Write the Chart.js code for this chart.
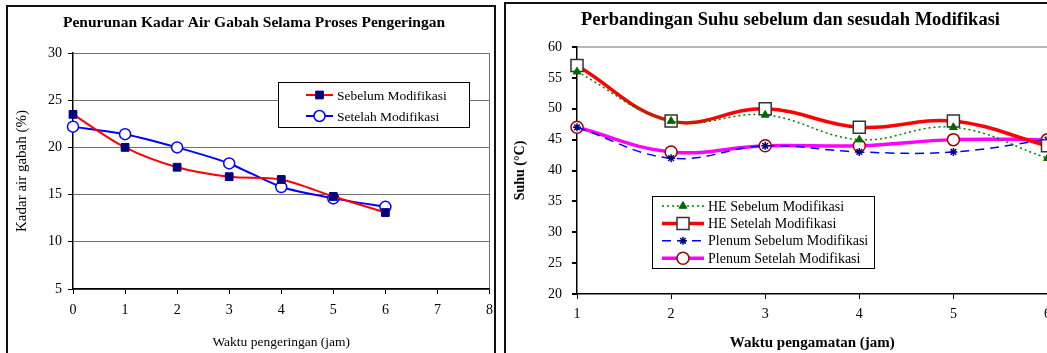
<!DOCTYPE html>
<html>
<head>
<meta charset="utf-8">
<script src="https://cdn.jsdelivr.net/npm/chart.js@4/dist/chart.umd.min.js"></script>
<style>
  html, body { margin: 0; padding: 0; background: #fff; }
  body { width: 1047px; height: 353px; overflow: hidden; position: relative; }
  .frame { position: absolute; border: 2px solid #111; box-sizing: border-box; }
  canvas { position: absolute; }
</style>
</head>
<body>
<div class="frame" style="left:6px; top:5px; width:490px; height:420px;"></div>
<div class="frame" style="left:504px; top:2px; width:600px; height:420px;"></div>
<canvas id="kadarChart" width="494" height="354" style="left:7px; top:6px;"></canvas>
<canvas id="suhuChart" width="553" height="360" style="left:505px; top:3px;"></canvas>
<script>
// data - kiri: kadar air gabah
const jamPengeringan = [0, 1, 2, 3, 4, 5, 6];
const kadarSebelum = [23.5, 20.0, 17.9, 16.9, 16.6, 14.8, 13.1];
const kadarSetelah = [22.2, 21.4, 20.0, 18.3, 15.8, 14.6, 13.7];

// data - kanan: suhu
const jamPengamatan = [1, 2, 3, 4, 5, 6];
const heSebelum = [56, 48, 49, 45, 47, 42];
const heSetelah = [57, 48, 50, 47, 48, 44];
const plenumSebelum = [47, 42, 44, 43, 43, 45];
const plenumSetelah = [47, 43, 44, 44, 45, 45];

const serif = '"Liberation Serif", "Times New Roman", serif';
Chart.defaults.font.family = serif;
Chart.defaults.color = '#000';

const pts = (xs, ys) => xs.map((x, i) => ({ x: x, y: ys[i] }));

// legend box drawn inside the plot, like excel
const boxLegend = {
  id: 'boxLegend',
  afterDraw(chart, args, o) {
    const { ctx, chartArea } = chart;
    const x0 = Math.round(chartArea.left + o.x), y0 = Math.round(chartArea.top + o.y);
    ctx.save();
    ctx.fillStyle = '#fff';
    ctx.fillRect(x0, y0, o.w, o.h);
    ctx.strokeStyle = '#000';
    ctx.lineWidth = 1;
    ctx.strokeRect(x0 + 0.5, y0 + 0.5, o.w, o.h);
    ctx.font = o.font;
    ctx.textBaseline = 'middle';
    chart.data.datasets.forEach((ds, i) => {
      const y = y0 + o.first + i * o.rowH;
      ctx.setLineDash(ds.borderDash || []);
      ctx.strokeStyle = ds.borderColor;
      ctx.lineWidth = ds.borderWidth;
      ctx.beginPath();
      ctx.moveTo(x0 + o.lineFrom, y);
      ctx.lineTo(x0 + o.lineTo, y);
      ctx.stroke();
      ctx.setLineDash([]);
      ctx.fillStyle = ds.pointBackgroundColor;
      ctx.strokeStyle = ds.pointBorderColor;
      ctx.lineWidth = ds.pointBorderWidth;
      Chart.helpers.drawPoint(ctx, {
        pointStyle: ds.pointStyle, radius: ds.pointRadius, rotation: 0, borderWidth: ds.pointBorderWidth
      }, x0 + (o.lineFrom + o.lineTo) / 2, y);
      ctx.fillStyle = '#000';
      ctx.fillText(ds.label, x0 + o.textX, y + 1);
    });
    ctx.restore();
  }
};

//#region kadar air
new Chart(document.getElementById('kadarChart'), {
  type: 'line',
  data: {
    datasets: [
      {
        label: 'Sebelum Modifikasi',
        data: pts(jamPengeringan, kadarSebelum),
        borderColor: '#ff0000', borderWidth: 2, tension: 0.3,
        pointStyle: 'rect', pointRadius: 5.5,
        pointBackgroundColor: '#000080', pointBorderColor: '#000080', pointBorderWidth: 1,
        clip: false
      },
      {
        label: 'Setelah Modifikasi',
        data: pts(jamPengeringan, kadarSetelah),
        borderColor: '#0000ff', borderWidth: 2, tension: 0.2,
        pointStyle: 'circle', pointRadius: 5.5,
        pointBackgroundColor: '#ffffff', pointBorderColor: '#0000ff', pointBorderWidth: 1.5,
        clip: false
      }
    ]
  },
  options: {
    responsive: false, animation: false, devicePixelRatio: 1,
    layout: { padding: { left: 0, right: 0, top: 0, bottom: 7 } },
    scales: {
      x: {
        type: 'linear', min: 0, max: 8,
        ticks: { stepSize: 1, padding: 8, font: { size: 14 } },
        grid: {
          color: (c) => (c.tick && c.tick.value === 8 ? '#707070' : 'rgba(0,0,0,0)'),
          tickColor: '#000', tickLength: 5
        },
        border: { color: '#000', width: 1.5 },
        title: { display: true, text: 'Waktu pengeringan (jam)', font: { size: 13.5 }, padding: { top: 0, bottom: 2 } },
        afterFit: (s) => { s.height = 64; }
      },
      y: {
        min: 5, max: 30,
        ticks: { stepSize: 5, padding: 6, font: { size: 14 } },
        grid: { color: '#707070', tickColor: '#000', tickLength: 5 },
        border: { color: '#000', width: 1.5 },
        title: { display: true, text: 'Kadar air gabah (%)', font: { size: 15 }, padding: { top: 6, bottom: 0 } },
        afterFit: (s) => { s.width = 66; }
      }
    },
    plugins: {
      legend: { display: false },
      tooltip: { enabled: false },
      title: {
        display: true, text: 'Penurunan Kadar Air Gabah Selama Proses Pengeringan',
        font: { size: 15.5, weight: 'bold' }, padding: { top: 8, bottom: 20.4 }
      },
      boxLegend: {
        x: 205, y: 29, w: 191, h: 45, first: 13, rowH: 21,
        lineFrom: 28, lineTo: 55, textX: 59, font: '13.5px ' + serif
      }
    }
  },
  plugins: [boxLegend]
});
//#endregion

//#region suhu
new Chart(document.getElementById('suhuChart'), {
  type: 'line',
  data: {
    datasets: [
      {
        label: 'HE Sebelum Modifikasi',
        data: pts(jamPengamatan, heSebelum),
        borderColor: '#008000', borderWidth: 1.5, borderDash: [2, 3], tension: 0.4,
        pointStyle: 'triangle', pointRadius: 4.5,
        pointBackgroundColor: '#006600', pointBorderColor: '#006600', pointBorderWidth: 1,
        clip: false
      },
      {
        label: 'HE Setelah Modifikasi',
        data: pts(jamPengamatan, heSetelah),
        borderColor: '#ff0000', borderWidth: 3.5, tension: 0.4,
        pointStyle: 'rect', pointRadius: 8.5,
        pointBackgroundColor: '#ffffff', pointBorderColor: '#333333', pointBorderWidth: 1.5,
        clip: false
      },
      {
        label: 'Plenum Sebelum Modifikasi',
        data: pts(jamPengamatan, plenumSebelum),
        borderColor: '#0000ff', borderWidth: 1.5, borderDash: [9, 6], tension: 0.4,
        pointStyle: 'star', pointRadius: 4,
        pointBackgroundColor: '#000080', pointBorderColor: '#000080', pointBorderWidth: 1.5,
        clip: false
      },
      {
        label: 'Plenum Setelah Modifikasi',
        data: pts(jamPengamatan, plenumSetelah),
        borderColor: '#ff00ff', borderWidth: 3.5, tension: 0.4,
        pointStyle: 'circle', pointRadius: 6,
        pointBackgroundColor: '#ffffff', pointBorderColor: '#990000', pointBorderWidth: 1.5,
        clip: false
      }
    ]
  },
  options: {
    responsive: false, animation: false, devicePixelRatio: 1,
    // left padding pushes the centred title to the right; the last x label sets the right edge
    layout: { padding: { left: 18, right: 0, top: 0, bottom: 7 } },
    scales: {
      x: {
        type: 'linear', min: 1, max: 6,
        ticks: { stepSize: 1, padding: 7, font: { size: 14 } },
        grid: { color: 'rgba(0,0,0,0)', tickColor: '#000', tickLength: 5 },
        border: { color: '#000', width: 1.5 },
        title: { display: true, text: 'Waktu pengamatan (jam)', font: { size: 15, weight: 'bold' }, padding: { top: 0, bottom: 4 } },
        afterFit: (s) => { s.height = 62; }
      },
      y: {
        min: 20, max: 60,
        ticks: { stepSize: 5, padding: 10, font: { size: 14 } },
        grid: {
          color: (c) => (c.tick && c.tick.value === 60 ? '#b8b8b8' : 'rgba(0,0,0,0)'),
          lineWidth: 2, tickColor: '#000', tickLength: 5
        },
        border: { color: '#000', width: 1.5 },
        title: { display: true, text: 'Suhu (°C)', font: { size: 14, weight: 'bold' }, padding: { top: -11.4, bottom: 0 } },
        afterFit: (s) => { s.width = 54; }
      }
    },
    plugins: {
      legend: { display: false },
      tooltip: { enabled: false },
      title: {
        display: true, text: 'Perbandingan Suhu sebelum dan sesudah Modifikasi',
        font: { size: 18.5, weight: 'bold' }, padding: { top: 6, bottom: 15.8 }
      },
      boxLegend: {
        x: 75, y: 149, w: 222, h: 72, first: 10, rowH: 17.4,
        lineFrom: 10, lineTo: 52, textX: 56, font: '14px ' + serif
      }
    }
  },
  plugins: [boxLegend]
});
//#endregion
</script>
</body>
</html>
